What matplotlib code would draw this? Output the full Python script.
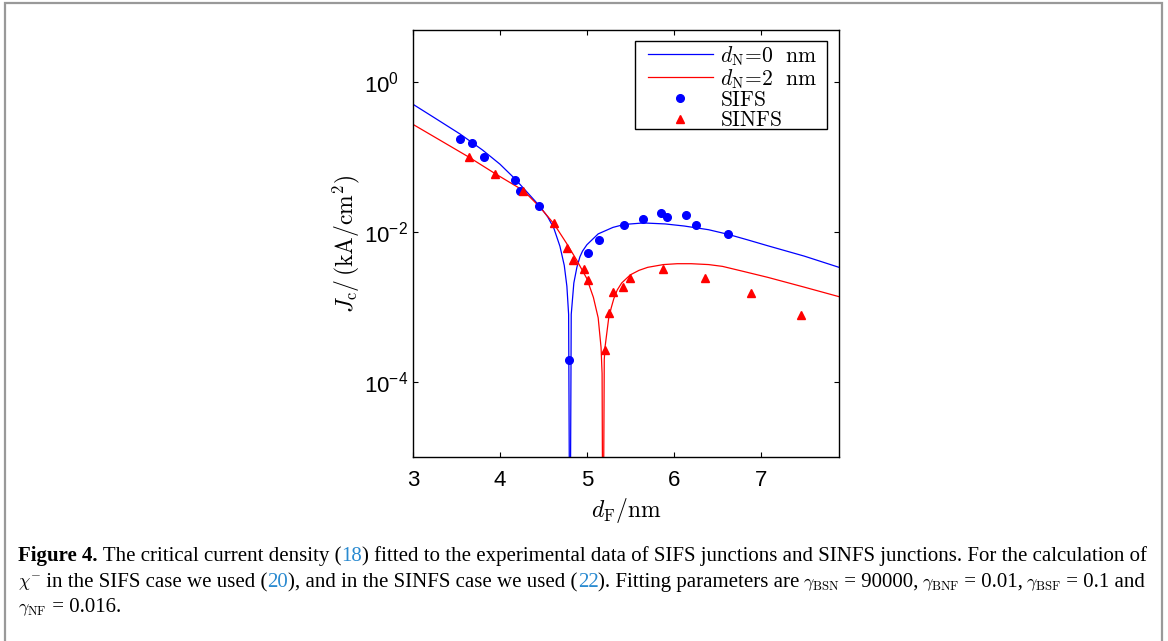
import matplotlib
matplotlib.use("Agg")
import matplotlib.pyplot as plt
from matplotlib.patches import Rectangle
from matplotlib.ticker import NullLocator

# fitted curves (d_F in nm, J_c in kA/cm^2)
fit0_x = [3.0, 3.25, 3.54, 3.8, 4.0, 4.17, 4.3, 4.45, 4.55, 4.62, 4.69, 4.74, 4.77,
          4.79, 4.805, 4.82, 4.85, 4.885, 4.92, 4.95, 5.0, 5.13, 5.3, 5.43, 5.65,
          5.9, 6.12, 6.4, 6.62, 6.85, 7.08, 7.5, 7.9]
fit0_y = [0.51, 0.335, 0.205, 0.125, 0.081, 0.052, 0.0355, 0.0228, 0.0160, 0.0113,
          0.0065, 0.0036, 0.0019, 0.0008, 1e-7, 0.0008, 0.0021, 0.0034, 0.0047,
          0.0056, 0.0068, 0.0095, 0.0116, 0.0127, 0.0133, 0.0129, 0.0121, 0.0108,
          0.0094, 0.0079, 0.0066, 0.0048, 0.0034]

fit2_x = [3.0, 3.3, 3.64, 3.95, 4.27, 4.46, 4.62, 4.77, 4.885, 5.0, 5.075, 5.13,
          5.163, 5.175, 5.185, 5.2, 5.21, 5.25, 5.28, 5.31, 5.35, 5.4, 5.5, 5.6,
          5.7, 5.88, 6.04, 6.2, 6.4, 6.56, 6.8, 7.08, 7.5, 7.9]
fit2_y = [0.275, 0.172, 0.101, 0.060, 0.036, 0.0216, 0.013, 0.0070, 0.0042, 0.0024,
          0.00135, 0.00072, 0.00029, 0.00013, 1e-7, 0.0002, 0.0003, 0.0007, 0.00098,
          0.0013, 0.0017, 0.0021, 0.0027, 0.0031, 0.0034, 0.0037, 0.0038, 0.0038,
          0.0037, 0.0035, 0.0030, 0.0025, 0.00185, 0.00138]

# measured junctions
sifs_x = [3.535, 3.674, 3.82, 4.17, 4.233, 4.45, 4.80, 5.01, 5.145, 5.43, 5.64,
          5.85, 5.92, 6.14, 6.26, 6.625]
sifs_y = [0.175, 0.155, 0.101, 0.050, 0.036, 0.0224, 0.0002, 0.00525, 0.0079,
          0.0126, 0.0148, 0.018, 0.0158, 0.017, 0.0123, 0.0095]

sinfs_x = [3.644, 3.946, 4.27, 4.624, 4.77, 4.846, 4.97, 5.01, 5.21, 5.26, 5.306,
           5.41, 5.50, 5.87, 6.36, 6.89, 7.46]
sinfs_y = [0.101, 0.060, 0.036, 0.0132, 0.0062, 0.0042, 0.0032, 0.0023, 0.00027,
           0.00084, 0.0016, 0.00186, 0.00245, 0.0032, 0.00245, 0.00155, 0.00079]

xticks = [3, 4, 5, 6, 7]
yticks = [1, 1e-2, 1e-4]
yticklabels = [r"$\mathregular{10^{0}}$", r"$\mathregular{10^{-2}}$", r"$\mathregular{10^{-4}}$"]

W, H = 1168, 641
plt.rcParams["font.family"] = ["Liberation Sans", "DejaVu Sans"]

fig = plt.figure(figsize=(W / 100, H / 100), dpi=100)
ax = fig.add_axes([413 / W, 1 - 457 / H, (839 - 413) / W, (457 - 30) / H])

ax.plot(fit0_x, fit0_y, color="b", lw=0.9, label=r"$d_{\mathrm{N}}\!=\!0\ \ \mathrm{nm}$")
ax.plot(fit2_x, fit2_y, color="r", lw=0.9, label=r"$d_{\mathrm{N}}\!=\!2\ \ \mathrm{nm}$")
ax.plot(sifs_x, sifs_y, "o", ls="none", color="b", ms=5.5, label=r"$\mathrm{SIFS}$")
ax.plot(sinfs_x, sinfs_y, "^", ls="none", color="r", ms=6, label=r"$\mathrm{SINFS}$")

ax.set_yscale("log")
ax.set_xlim(3, 7.9)
ax.set_ylim(1e-5, 5)
ax.set_xticks(xticks)
ax.set_xticklabels([str(v) for v in xticks])
ax.set_yticks(yticks)
ax.set_yticklabels(yticklabels)
ax.yaxis.set_minor_locator(NullLocator())
ax.tick_params(direction="in", top=True, right=True, length=3.5, width=0.8,
               labelsize=16)
ax.tick_params(axis="x", pad=9)
# MATLAB style: the "10" bases line up, exponents stick out to the right
ax.tick_params(axis="y", pad=35)
for lbl in ax.get_yticklabels():
    lbl.set_ha("left")
for sp in ax.spines.values():
    sp.set_linewidth(1.0)

ax.set_xlabel(r"$d_{\mathrm{F}}/\mathrm{nm}$", fontsize=17, math_fontfamily="cm",
              labelpad=4)
ax.set_ylabel(r"$J_{\mathrm{c}}/\,(\mathrm{kA/cm}^{2})$", fontsize=17,
              math_fontfamily="cm", labelpad=2)

# legend without its own frame; the box is drawn separately to get the padding right
leg = ax.legend(loc="upper left", bbox_to_anchor=(648 / W, 1 - 44 / H),
                bbox_transform=fig.transFigure,
                prop={"size": 15.5, "math_fontfamily": "cm"}, frameon=False,
                numpoints=1, handlelength=3.0, handletextpad=0.35,
                labelspacing=-0.03, borderpad=0, borderaxespad=0)
fig.patches.append(Rectangle((635 / W, 1 - 129 / H), 192 / W, 88 / H,
                             transform=fig.transFigure, fill=False, ec="k", lw=1.0))

# outer frame around figure + caption (bottom edge falls outside the image)
fig.patches.append(Rectangle((5 / W, 1 - 646 / H), (1162 - 5) / W, (646 - 3) / H,
                             transform=fig.transFigure, fill=False,
                             ec="#999999", lw=1.6))

# caption, drawn piece by piece so the references can be blue
cap_font = ["Liberation Serif", "DejaVu Serif"]
ref_blue = "#2a8ad0"
styles = {
    "b": dict(weight="bold", size=15),
    "n": dict(size=15),
    "r": dict(color=ref_blue, size=15),
    "m": dict(math_fontfamily="cm", size=13),
}
caption = [
    (561, [("Figure 4.", "b"), (" The critical current density (", "n"), ("18", "r"),
           (") fitted to the experimental data of SIFS junctions and SINFS junctions."
            " For the calculation of", "n")]),
    (587, [(r"$\chi^{-}$", "m"), (" in the SIFS case we used (", "n"), ("20", "r"),
           ("), and in the SINFS case we used (", "n"), ("22", "r"),
           ("). Fitting parameters are", "n"), (None, "gap"),
           (r"$\gamma_{\mathrm{BSN}}$", "m"), (" = 90000,", "n"), (None, "gap"),
           (r"$\gamma_{\mathrm{BNF}}$", "m"), (" = 0.01,", "n"), (None, "gap"),
           (r"$\gamma_{\mathrm{BSF}}$", "m"), (" = 0.1 and", "n")]),
    (612, [(r"$\gamma_{\mathrm{NF}}$", "m"), (" = 0.016.", "n")]),
]
renderer = fig.canvas.get_renderer()
for y_px, parts in caption:
    x_px = 18
    for txt, st in parts:
        if st == "gap":
            x_px += 3
            continue
        t = fig.text(x_px / W, 1 - y_px / H, txt, family=cap_font,
                     va="baseline", ha="left", **styles[st])
        x_px += t.get_window_extent(renderer).width

fig.savefig("out.png", dpi=100)
